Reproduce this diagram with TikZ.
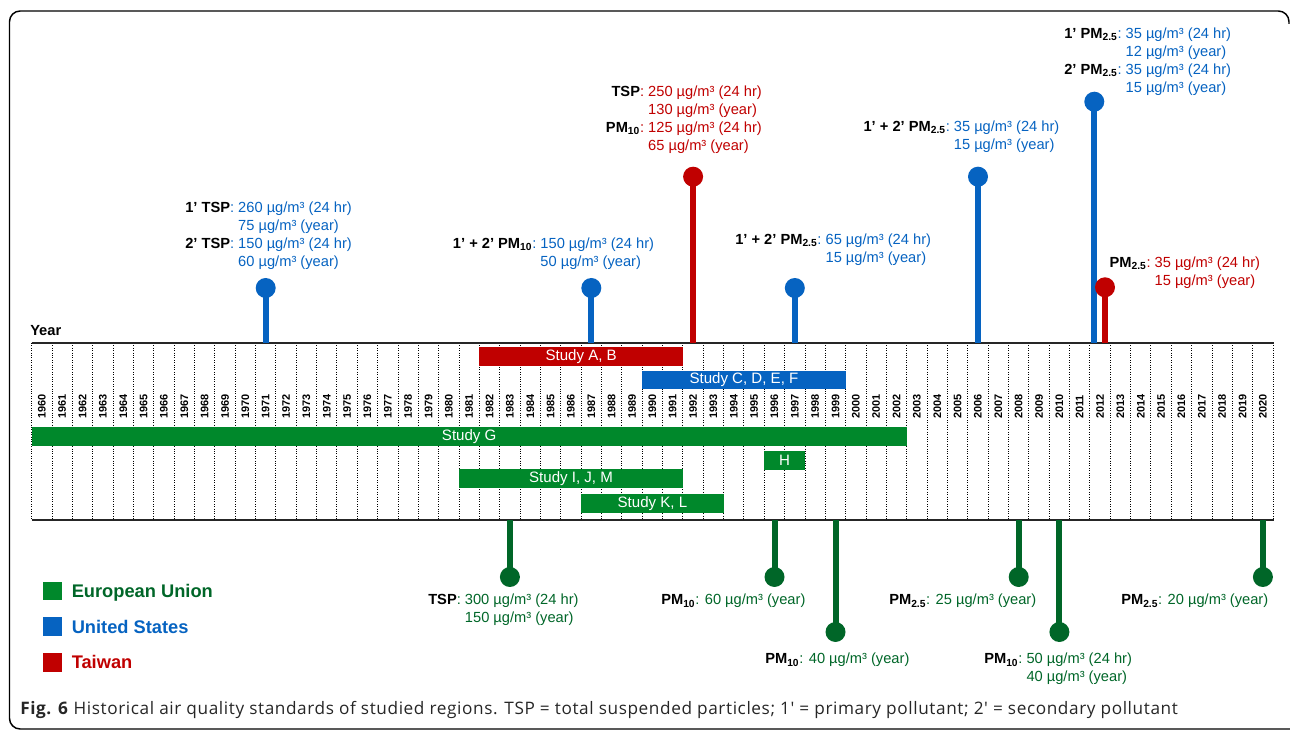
\documentclass[tikz,border=0pt]{standalone}
\usepackage{fontspec}
\setmainfont{Liberation Sans}
\newfontfamily\capfont[LetterSpace=3.5]{Open Sans}
\definecolor{usblue}{RGB}{6,99,193}
\definecolor{twred}{RGB}{192,0,0}
\definecolor{eugreen}{RGB}{0,136,43}
\definecolor{eudark}{RGB}{0,102,40}
\tikzset{
  axisline/.style = {line width=1.5pt, draw=black!85},
  yearline/.style = {line width=0.7pt, dash pattern=on 0.7pt off 1.1pt},
  yearlabel/.style = {rotate=90, anchor=west, inner sep=0pt, font=\fontsize{8.2}{9}\selectfont\bfseries},
  studylabel/.style = {inner sep=0pt, text=white, font=\fontsize{11.3}{13}\selectfont},
  stem/.style = {line width=4.5pt},
  knob/.style = {circle, inner sep=0pt, minimum size=15pt},
  limit/.style = {anchor=base west, inner sep=0pt, font=\fontsize{11}{13.5}\selectfont},
  legendbox/.style = {inner sep=0pt, minimum size=14pt},
  legendtext/.style = {anchor=base west, inner sep=0pt, font=\fontsize{13.7}{16}\selectfont\bfseries}
}

\begin{document}
\begin{tikzpicture}[x=0.75pt, y=-0.75pt]
  \useasboundingbox (0,0) rectangle (1290,730);
  \draw[line width=1.1pt, rounded corners=8pt] (1296,729) -| (9.5,11) -| (1289,24);

  % year grid
  \foreach \i in {0,...,61}
    \draw[yearline] ({31.7+20.35*\i},343) -- ({31.7+20.35*\i},520);
  \foreach \yr [count=\i from 0] in {1960,...,2020}
    \node[yearlabel] (y\yr) at ({41.875+20.35*\i},419) {\yr};
  \node[anchor=base west, inner sep=0pt, font=\fontsize{11}{13}\selectfont\bfseries] (yearhead) at (30,336) {Year};

  % studies
  \fill[twred] (479.4,347.3) rectangle (682.9,365.7);
  \node[studylabel] (studyAB) at (581.15,356.5) {Study A, B};
  \fill[usblue] (642.2,370.7) rectangle (845.7,389);
  \node[studylabel] (studyCF) at (743.95,379.9) {Study C, D, E, F};
  \fill[eugreen] (31.7,427) rectangle (906.75,446);
  \node[studylabel] (studyG) at (469.2,436.5) {Study G};
  \fill[eugreen] (764.3,451) rectangle (805,470);
  \node[studylabel] (studyH) at (784.65,460.5) {H};
  \fill[eugreen] (459.05,469.3) rectangle (682.9,487.7);
  \node[studylabel] (studyIJM) at (571,478.5) {Study I, J, M};
  \fill[eugreen] (581.15,494.3) rectangle (723.6,512.7);
  \node[studylabel] (studyKL) at (652.4,503.5) {Study K, L};

  % axes
  \coordinate (topL) at (31.7,343);
  \coordinate (topR) at (1274,343);
  \coordinate (botL) at (31.7,520);
  \coordinate (botR) at (1274,520);
  \draw[axisline] (topL) -- (topR);
  \draw[axisline] (botL) -- (botR);

  % United States and Taiwan
  \draw[stem, usblue] (265.7,343) -- (265.7,288) node[knob, fill=usblue] (us71) {};
  \draw[stem, usblue] (591.3,343) -- (591.3,288) node[knob, fill=usblue] (us87) {};
  \draw[stem, twred] (693.1,343) -- (693.1,176.7) node[knob, fill=twred] (tw92) {};
  \draw[stem, usblue] (794.8,343) -- (794.8,288) node[knob, fill=usblue] (us97) {};
  \draw[stem, usblue] (978,343) -- (978,176.7) node[knob, fill=usblue] (us06) {};
  \draw[stem, usblue] (1094.3,343) -- (1094.3,101.7) node[knob, fill=usblue] (us12) {};
  \draw[stem, twred] (1105,343) -- (1105,287.3) node[knob, fill=twred] (tw12) {};

  % European Union
  \draw[stem, eudark] (509.9,520) -- (509.9,577) node[knob, fill=eudark] (eu83) {};
  \draw[stem, eudark] (774.5,520) -- (774.5,577) node[knob, fill=eudark] (eu96) {};
  \draw[stem, eudark] (835.5,520) -- (835.5,632) node[knob, fill=eudark] (eu99) {};
  \draw[stem, eudark] (1018.7,520) -- (1018.7,577) node[knob, fill=eudark] (eu08) {};
  \draw[stem, eudark] (1059.4,520) -- (1059.4,632) node[knob, fill=eudark] (eu10) {};
  \draw[stem, eudark] (1262.9,520) -- (1262.9,577) node[knob, fill=eudark] (eu20) {};

  % limit values
  \node[limit, text=usblue] (lab71) at (185,212.3) {\begin{tabular}[t]{@{}r@{}l@{}}
    \textcolor{black}{\textbf{1’ TSP}}: & \ 260 µg/m³ (24 hr)\\
    & \ 75 µg/m³ (year)\\
    \textcolor{black}{\textbf{2’ TSP}}: & \ 150 µg/m³ (24 hr)\\
    & \ 60 µg/m³ (year)
  \end{tabular}};
  \node[limit, text=usblue] (lab87) at (452.7,248.3) {\begin{tabular}[t]{@{}r@{}l@{}}
    \textcolor{black}{\textbf{1’ + 2’ PM\textsubscript{10}}}: & \ 150 µg/m³ (24 hr)\\
    & \ 50 µg/m³ (year)
  \end{tabular}};
  \node[limit, text=twred] (lab92) at (605.7,96.7) {\begin{tabular}[t]{@{}r@{}l@{}}
    \textcolor{black}{\textbf{TSP}}: & \ 250 µg/m³ (24 hr)\\
    & \ 130 µg/m³ (year)\\
    \textcolor{black}{\textbf{PM\textsubscript{10}}}: & \ 125 µg/m³ (24 hr)\\
    & \ 65 µg/m³ (year)
  \end{tabular}};
  \node[limit, text=usblue] (lab97) at (735,244.5) {\begin{tabular}[t]{@{}r@{}l@{}}
    \textcolor{black}{\textbf{1’ + 2’ PM\textsubscript{2.5}}}: & \ 65 µg/m³ (24 hr)\\
    & \ 15 µg/m³ (year)
  \end{tabular}};
  \node[limit, text=usblue] (lab06) at (863.3,131.7) {\begin{tabular}[t]{@{}r@{}l@{}}
    \textcolor{black}{\textbf{1’ + 2’ PM\textsubscript{2.5}}}: & \ 35 µg/m³ (24 hr)\\
    & \ 15 µg/m³ (year)
  \end{tabular}};
  \node[limit, text=usblue] (lab12us) at (1064,38.3) {\begin{tabular}[t]{@{}r@{}l@{}}
    \textcolor{black}{\textbf{1’ PM\textsubscript{2.5}}}: & \ 35 µg/m³ (24 hr)\\
    & \ 12 µg/m³ (year)\\
    \textcolor{black}{\textbf{2’ PM\textsubscript{2.5}}}: & \ 35 µg/m³ (24 hr)\\
    & \ 15 µg/m³ (year)
  \end{tabular}};
  \node[limit, text=twred] (lab12tw) at (1109.3,267.3) {\begin{tabular}[t]{@{}r@{}l@{}}
    \textcolor{black}{\textbf{PM\textsubscript{2.5}}}: & \ 35 µg/m³ (24 hr)\\
    & \ 15 µg/m³ (year)
  \end{tabular}};
  \node[limit, text=eudark] (lab83) at (428,604.5) {\begin{tabular}[t]{@{}r@{}l@{}}
    \textcolor{black}{\textbf{TSP}}: & \ 300 µg/m³ (24 hr)\\
    & \ 150 µg/m³ (year)
  \end{tabular}};
  \node[limit, text=eudark] (lab96) at (661,605) {\textcolor{black}{\textbf{PM\textsubscript{10}}}: 60 µg/m³ (year)};
  \node[limit, text=eudark] (lab99) at (765,664) {\textcolor{black}{\textbf{PM\textsubscript{10}}}: 40 µg/m³ (year)};
  \node[limit, text=eudark] (lab08) at (889,605) {\textcolor{black}{\textbf{PM\textsubscript{2.5}}}: 25 µg/m³ (year)};
  \node[limit, text=eudark] (lab10) at (984,664) {\begin{tabular}[t]{@{}r@{}l@{}}
    \textcolor{black}{\textbf{PM\textsubscript{10}}}: & \ 50 µg/m³ (24 hr)\\
    & \ 40 µg/m³ (year)
  \end{tabular}};
  \node[limit, text=eudark] (lab20) at (1121,605) {\textcolor{black}{\textbf{PM\textsubscript{2.5}}}: 20 µg/m³ (year)};

  % legend
  \node[legendbox, fill=eugreen] (legEU) at (52.5,591) {};
  \node[legendbox, fill=usblue] (legUS) at (52.5,626.5) {};
  \node[legendbox, fill=twred] (legTW) at (52.5,662.5) {};
  \node[legendtext, text=eudark] (legEUt) at (71.5,597.3) {European Union};
  \node[legendtext, text=usblue] (legUSt) at (71.5,633.3) {United States};
  \node[legendtext, text=twred] (legTWt) at (71.5,668.8) {Taiwan};

  \node[anchor=base west, inner sep=0pt, font=\capfont\fontsize{12.9}{14}\selectfont, text=black!85] (caption) at (20,714.3)
    {\textbf{Fig. 6} Historical air quality standards of studied regions. TSP = total suspended particles; 1′ = primary pollutant; 2′ = secondary pollutant};
\end{tikzpicture}
\end{document}
